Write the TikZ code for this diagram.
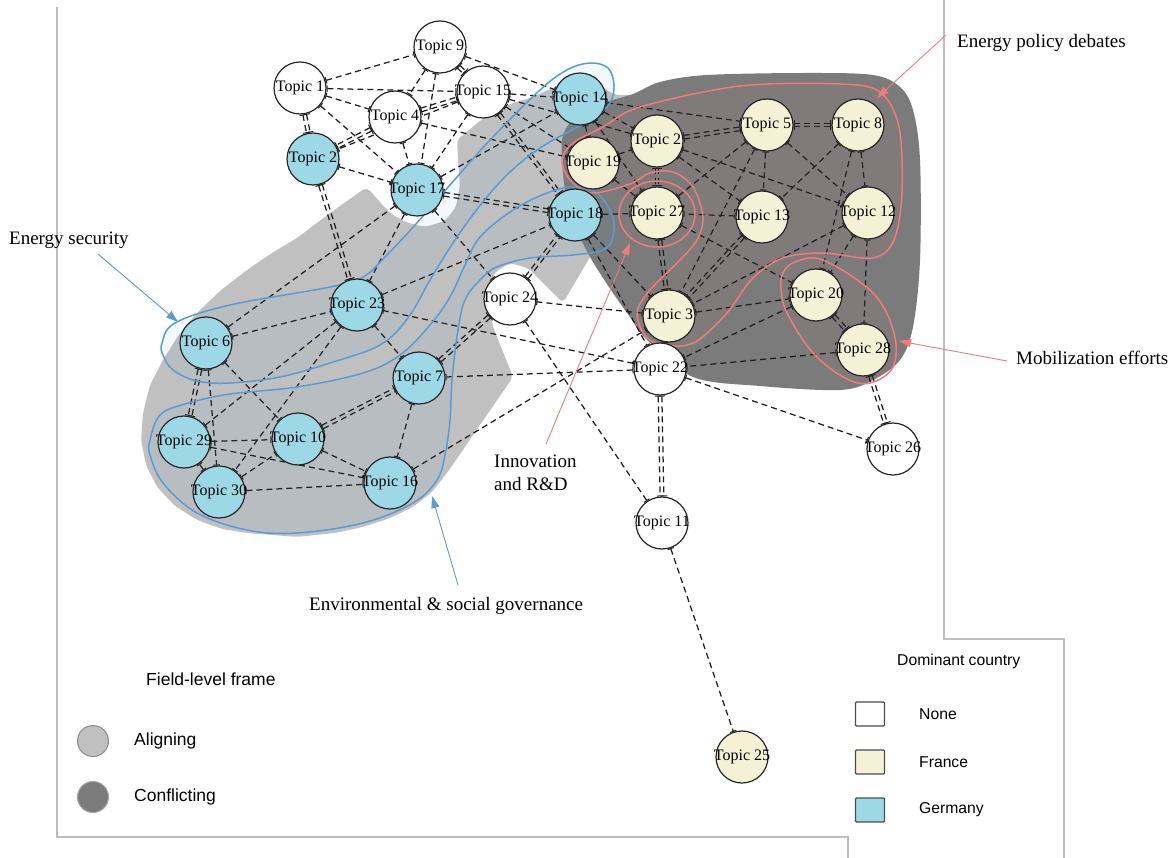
\documentclass[tikz,border=0pt]{standalone}
\usepackage{fontspec}
\setmainfont{Liberation Serif}
\newfontfamily\lsans{Liberation Sans}
\usetikzlibrary{arrows.meta,calc}
\definecolor{lgr}{RGB}{192,192,192}
\definecolor{dgr}{RGB}{123,123,123}
\definecolor{bl}{RGB}{91,155,213}
\definecolor{pk}{RGB}{242,122,122}
\definecolor{germ}{RGB}{157,216,231}
\definecolor{frc}{RGB}{245,241,215}
\definecolor{frm}{RGB}{190,190,190}
\definecolor{edg}{RGB}{30,30,30}
\pgfdeclarelayer{bglayer}
\pgfdeclarelayer{edglayer}
\pgfdeclarelayer{outlayer}
\pgfsetlayers{bglayer,edglayer,outlayer,main}
\newcommand\lk[2]{\draw[lnk] (#1) -- (#2);}
\newcommand\dlk[2]{%
  \pgfmathanglebetweenpoints{\pgfpointanchor{#1}{center}}{\pgfpointanchor{#2}{center}}%
  \edef\myang{\pgfmathresult}%
  \pgfmathtruncatemacro\aA{mod(\myang+4,360)}%
  \pgfmathtruncatemacro\bA{mod(\myang+176,360)}%
  \pgfmathtruncatemacro\aB{mod(\myang+356,360)}%
  \pgfmathtruncatemacro\bB{mod(\myang+184,360)}%
  \draw[lnk] (#1.\aA) -- (#2.\bA);
  \draw[lnk] (#1.\aB) -- (#2.\bB);}
\begin{document}
\begin{tikzpicture}[x=1pt,y=-1pt,
  topic/.style={circle, draw=black!85, line width=1.2pt, minimum size=52pt, inner sep=0pt,
     font=\fontsize{16}{17}\selectfont},
  tw/.style={topic, fill=white},
  tg/.style={topic, fill=germ},
  tf/.style={topic, fill=frc},
  lnk/.style={draw=edg, line width=1.25pt, dash pattern=on 6pt off 4pt,
     {Bar[width=6.5pt,line width=1pt]}-{Bar[width=6.5pt,line width=1pt]}},
  ann/.style={font=\fontsize{19}{23}\selectfont, inner sep=0pt},
  framel/.style={draw=frm, line width=1.2pt},
  bout/.style={draw=bl, line width=1.5pt, fill=bl, fill opacity=0.07},
  pout/.style={draw=pk, line width=1.5pt, fill=pk, fill opacity=0.05},
  barr/.style={line width=0.9pt, -{Triangle[length=12pt,width=8pt]}},
  lgd/.style={font=\lsans\fontsize{17.5}{20}\selectfont, inner sep=0pt, anchor=west},
  lgdr/.style={font=\lsans\fontsize{15.7}{18}\selectfont, inner sep=0pt, anchor=west}
]
\useasboundingbox (0,0) rectangle (1175,858);

% frames
\draw[framel] (57,7) -- (57,837) -- (848,837) -- (848,858);
\draw[framel] (944,0) -- (944,639) -- (1064,639) -- (1064,858);

\begin{pgfonlayer}{bglayer}
% aligning region
\fill[lgr, rounded corners=5pt] (143,413) -- (150,385) -- (163,360) -- (178,336) -- (197,313) -- (220,291)
  -- (247,270) -- (272,253) -- (297,238) -- (330,213) -- (367,187) -- (378,200) -- (390,213)
  -- (405,222) -- (425,227) -- (445,221) -- (456,207) -- (460,185) -- (458,160) -- (457,140)
  -- (475,125) -- (490,113) -- (510,104) -- (530,98) -- (560,85) -- (590,80) -- (615,95)
  -- (640,95) -- (660,120) -- (620,200) -- (590,257) -- (563,303) -- (545,285) -- (528,268)
  -- (510,263) -- (495,272) -- (487,292) -- (493,327) -- (513,377) -- (447,473) -- (432,492)
  -- (413,507) -- (390,518) -- (363,527) -- (335,533) -- (297,537) -- (247,533) -- (222,529)
  -- (197,520) -- (175,506) -- (157,487) -- (146,465) -- (141,440) -- cycle;
% conflicting region
\fill[dgr] plot[smooth cycle, tension=0.55] coordinates {(562,140) (575,118) (600,104) (633,94)
  (660,82) (707,75) (807,73) (873,75) (900,87) (913,110) (920,160) (920,260) (913,327) (900,360)
  (873,380) (840,390) (760,386) (693,377) (647,340) (630,317) (613,293) (590,257) (575,225) (565,190)};
\end{pgfonlayer}

% nodes
\node[tw] (t9) at (440,47) {\makebox[0pt]{Topic 9}};
\node[tw] (t1) at (300,88) {\makebox[0pt]{Topic 1}};
\node[tw] (t15) at (483,92) {\makebox[0pt]{Topic 15}};
\node[tw] (t4) at (395,117) {\makebox[0pt]{Topic 4}};
\node[tg] (t2) at (313,159) {\makebox[0pt]{Topic 2}};
\node[tg] (t17) at (417,190) {\makebox[0pt]{Topic 17}};
\node[tg] (t14) at (580,99) {\makebox[0pt]{Topic 14}};
\node[tf] (t19) at (593,163) {\makebox[0pt]{Topic 19}};
\node[tf] (t2f) at (657,141) {\makebox[0pt]{Topic 2}};
\node[tf] (t5) at (767,125) {\makebox[0pt]{Topic 5}};
\node[tf] (t8) at (858,125) {\makebox[0pt]{Topic 8}};
\node[tg] (t18) at (575,215) {\makebox[0pt]{Topic 18}};
\node[tf] (t27) at (657,213) {\makebox[0pt]{Topic 27}};
\node[tf] (t13) at (762,217) {\makebox[0pt]{Topic 13}};
\node[tf] (t12) at (868,213) {\makebox[0pt]{Topic 12}};
\node[tf] (t20) at (816,295) {\makebox[0pt]{Topic 20}};
\node[tf] (t3) at (669,316) {\makebox[0pt]{Topic 3}};
\node[tf] (t28) at (863,350) {\makebox[0pt]{Topic 28}};
\node[tw] (t22) at (660,369) {\makebox[0pt]{Topic 22}};
\node[tw] (t26) at (893,449) {\makebox[0pt]{Topic 26}};
\node[tw] (t11) at (662,523) {\makebox[0pt]{Topic 11}};
\node[tf] (t25) at (742,757) {\makebox[0pt]{Topic 25}};
\node[tw] (t24) at (510,299) {\makebox[0pt]{Topic 24}};
\node[tg] (t23) at (357,305) {\makebox[0pt]{Topic 23}};
\node[tg] (t6) at (206,343) {\makebox[0pt]{Topic 6}};
\node[tg] (t7) at (419,378) {\makebox[0pt]{Topic 7}};
\node[tg] (t29) at (184,442) {\makebox[0pt]{Topic 29}};
\node[tg] (t10) at (298,439) {\makebox[0pt]{Topic 10}};
\node[tg] (t30) at (219,492) {\makebox[0pt]{Topic 30}};
\node[tg] (t16) at (390,483) {\makebox[0pt]{Topic 16}};

% edges
\begin{pgfonlayer}{edglayer}
\lk{t1}{t9}\lk{t1}{t15}\lk{t1}{t4}\lk{t1}{t17}\lk{t9}{t4}\lk{t9}{t17}\lk{t9}{t14}
\lk{t4}{t17}\lk{t4}{t19}\lk{t15}{t2}\lk{t15}{t17}\lk{t15}{t19}\lk{t15}{t14}\lk{t15}{t2f}
\lk{t2}{t17}\lk{t17}{t6}\lk{t17}{t23}\lk{t17}{t24}\lk{t17}{t14}
\lk{t14}{t19}\lk{t14}{t2f}\lk{t14}{t5}\lk{t14}{t27}
\lk{t18}{t27}\lk{t18}{t3}\lk{t18}{t22}\lk{t19}{t2f}\lk{t19}{t27}
\lk{t2f}{t12}\lk{t2f}{t13}\lk{t5}{t13}\lk{t5}{t12}\lk{t5}{t3}\lk{t5}{t27}
\lk{t8}{t13}\lk{t8}{t12}\lk{t8}{t20}\lk{t12}{t28}\lk{t12}{t20}\lk{t12}{t3}
\lk{t13}{t27}\lk{t27}{t20}\lk{t3}{t20}\lk{t3}{t22}\lk{t3}{t24}
\lk{t20}{t22}\lk{t28}{t22}\lk{t22}{t26}\lk{t22}{t23}\lk{t22}{t7}
\lk{t24}{t11}\lk{t11}{t25}\lk{t16}{t3}
\lk{t6}{t23}\lk{t6}{t30}\lk{t6}{t10}\lk{t23}{t7}\lk{t23}{t29}\lk{t23}{t30}\lk{t23}{t18}
\lk{t29}{t10}\lk{t29}{t16}\lk{t29}{t30}\lk{t30}{t10}\lk{t30}{t16}\lk{t10}{t16}\lk{t7}{t16}
\dlk{t1}{t2}\dlk{t9}{t15}\dlk{t4}{t15}\dlk{t4}{t2}\dlk{t17}{t18}\dlk{t2}{t23}
\dlk{t6}{t29}\dlk{t10}{t7}\dlk{t7}{t24}\dlk{t24}{t18}\dlk{t15}{t18}
\dlk{t2f}{t27}\dlk{t2f}{t5}\dlk{t5}{t8}\dlk{t27}{t3}\dlk{t13}{t3}
\dlk{t20}{t28}\dlk{t28}{t26}\dlk{t22}{t11}
\end{pgfonlayer}

% outlines
\begin{pgfonlayer}{outlayer}
\path[bout] plot[smooth cycle, tension=0.6] coordinates {(162,343) (175,323) (230,305) (330,287)
  (363,277) (385,257) (415,225) (450,185) (490,140) (540,90) (567,70) (590,63) (608,68) (614,85)
  (610,103) (595,117) (570,131) (540,148) (510,172) (482,203) (455,240) (430,280) (408,318)
  (380,345) (330,363) (280,377) (230,383) (197,381) (173,370) (163,355)};
\path[bout] plot[smooth cycle, tension=0.6] coordinates {(150,440) (160,415) (185,404) (230,394)
  (297,387) (363,373) (400,355) (430,325) (450,297) (465,265) (480,237) (513,210) (547,193)
  (573,187) (597,193) (612,215) (613,237) (603,250) (573,255) (530,258) (497,267) (480,280)
  (465,300) (458,330) (452,380) (450,420) (445,455) (437,480) (413,503) (363,523) (297,533)
  (247,530) (197,513) (163,483) (150,455)};
\path[pout] plot[smooth cycle, tension=0.55] coordinates {(562,160) (573,143) (603,127) (640,107)
  (740,86) (840,84) (880,92) (899,127) (902,193) (894,240) (873,258) (823,253) (783,258) (753,278)
  (727,313) (697,341) (673,346) (647,338) (637,313) (650,290) (680,260) (697,240) (703,217)
  (693,187) (673,172) (650,173) (630,184) (592,193) (570,180)};
\path[pout] (657,214) ellipse [x radius=38, y radius=33];
\path[pout] plot[smooth cycle, tension=0.6] coordinates {(783,273) (795,262) (823,260) (873,293)
  (894,333) (893,367) (870,383) (845,378) (813,353) (787,313) (781,288)};
\end{pgfonlayer}

% annotations
\node[ann, anchor=west] (lepd) at (957,43) {Energy policy debates};
\node[ann, anchor=west] (lmob) at (1016,358) {Mobilization efforts};
\node[ann, anchor=west] (les) at (9,240) {Energy security};
\node[ann, anchor=west] (lesg) at (309,606) {Environmental \& social governance};
\node[ann, anchor=north west, align=left] (linn) at (494,455) {Innovation\\and R\&D};

\coordinate (a1s) at (946,35);   \coordinate (a1e) at (877,98);
\coordinate (a2s) at (1007,361); \coordinate (a2e) at (899,341);
\coordinate (a3s) at (98,254);   \coordinate (a3e) at (178,322);
\coordinate (a4s) at (458,585);  \coordinate (a4e) at (432,496);
\coordinate (a5s) at (546,444);  \coordinate (a5e) at (630,243);
\draw[barr, pk] (a1s) -- (a1e);
\draw[barr, pk] (a2s) -- (a2e);
\draw[barr, bl] (a3s) -- (a3e);
\draw[barr, bl] (a4s) -- (a4e);
\draw[barr, pk] (a5s) -- (a5e);

% legend left
\node[lgd] (lgtitle) at (146,679) {Field-level frame};
\node[circle, minimum size=31pt, inner sep=0pt, fill=lgr, draw=black!45, line width=1pt] (lgc1) at (93,741) {};
\node[circle, minimum size=31pt, inner sep=0pt, fill=dgr, draw=black!35, line width=1pt] (lgc2) at (93,797) {};
\node[lgd] (lgt1) at (134,741) {Aligning};
\node[lgd] (lgt2) at (134,797) {Conflicting};

% legend right
\node[lgdr] (lrtitle) at (897,661) {Dominant country};
\node[draw=black!70, line width=1.1pt, fill=white, minimum width=29pt, minimum height=24pt, inner sep=0pt, rounded corners=1pt] (sq1) at (870,714) {};
\node[draw=black!70, line width=1.1pt, fill=frc, minimum width=29pt, minimum height=24pt, inner sep=0pt, rounded corners=1pt] (sq2) at (870,762) {};
\node[draw=black!70, line width=1.1pt, fill=germ, minimum width=29pt, minimum height=24pt, inner sep=0pt, rounded corners=1pt] (sq3) at (870,810) {};
\node[lgdr] (lr1) at (919,714) {None};
\node[lgdr] (lr2) at (919,762) {France};
\node[lgdr] (lr3) at (919,810) {Germany};
\end{tikzpicture}
\end{document}
